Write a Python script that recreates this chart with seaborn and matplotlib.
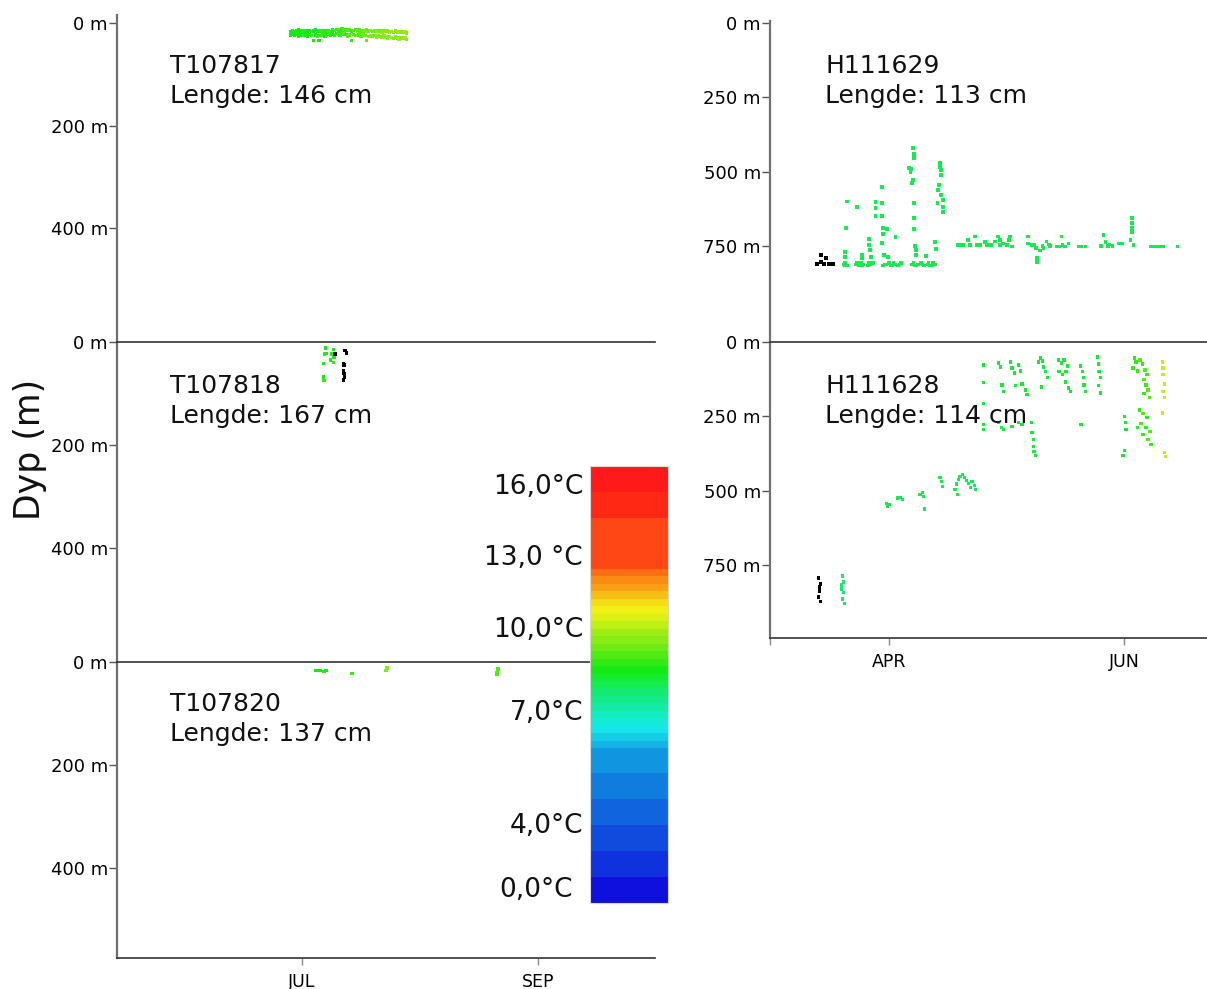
import numpy as np
import pandas as pd
import matplotlib
matplotlib.use("Agg")
import matplotlib.pyplot as plt
import seaborn as sns

nan = np.nan

# ==========================================
# DATA  (days relative to 1 Jul / 1 Apr, depth in m, temperature in degC, nan = no temp -> black)
# ==========================================
# T107817 - two readings per half day (upper / lower part of the band)
t17_days = [-3.0, -2.5, -2.0, -1.5, -1.0, -0.5, 0.0, 0.5, 1.0, 1.5,
            2.0, 2.5, 3.0, 3.5, 4.0, 4.5, 5.0, 5.5, 6.0, 6.5,
            7.0, 7.5, 8.0, 8.5, 9.0, 9.5, 10.0, 10.5, 11.0, 11.5,
            12.0, 12.5, 13.0, 13.5, 14.0, 14.5, 15.0, 15.5, 16.0, 16.5,
            17.0, 17.5, 18.0, 18.5, 19.0, 19.5, 20.0, 20.5, 21.0, 21.5,
            22.0, 22.5, 23.0, 23.5, 24.0, 24.5, 25.0, 25.5, 26.0, 26.5,
            27.0, 27.5]
t17_upper = [17, 15, 18, 16, 14, 17, 15, 16, 18, 16,
             15, 17, 16, 14, 16, 17, 15, 16, 18, 15,
             16, 17, 14, 15, 13, 14, 16, 12, 14, 13,
             15, 14, 16, 15, 13, 16, 14, 17, 15, 16,
             14, 16, 15, 17, 16, 15, 17, 16, 18, 16,
             17, 16, 18, 17, 19, 16, 18, 17, 19, 17,
             18, 20]
t17_lower = [24, 22, 25, 23, 26, 24, 23, 25, 24, 27,
             23, 25, 35, 24, 26, 35, 25, 24, 26, 25,
             23, 24, 22, 24, 21, 23, 24, 20, 22, 23,
             26, 24, 35, 23, 25, 25, 24, 26, 23, 25,
             35, 27, 26, 26, 25, 28, 26, 27, 29, 26,
             28, 30, 27, 29, 31, 28, 30, 32, 29, 31,
             30, 33]
t17_temp = [8.45, 8.45, 8.45, 8.45, 8.45, 8.45, 8.45, 8.7, 8.45, 8.45,
            8.45, 8.7, 8.45, 8.45, 8.7, 8.45, 8.7, 8.7, 8.45, 8.7,
            8.7, 8.7, 8.45, 8.7, 8.7, 8.98, 8.7, 8.7, 8.98, 8.7,
            8.98, 8.98, 8.7, 8.98, 8.98, 9.25, 8.98, 8.98, 9.25, 9.25,
            9.25, 9.25, 9.5, 9.25, 9.25, 9.5, 9.5, 9.25, 9.5, 9.5,
            9.5, 9.5, 9.5, 9.8, 9.5, 9.5, 9.5, 9.8, 9.5, 9.5,
            9.8, 9.5]

# T107818
t18_days = [6.2, 5.9, 6.5, 8.2, 7.8, 8.4, 7.4, 8.2, 5.6, 5.6, 5.8,
            8.7, 11.3, 11.6, 10.9, 11.0, 10.9, 11.0, 11.1, 10.9]
t18_depth = [12, 23, 22, 14, 23, 29, 35, 40, 42, 68, 75,
             23, 16, 21, 42, 45, 55, 61, 68, 74]
t18_temp = [8.45, 8.7, 8.45, 8.45, 8.7, 8.45, 8.45, 8.7, 8.45, 8.45, 8.7,
            nan, nan, nan, nan, nan, nan, nan, nan, nan]

# T107820
t20_days = [3.7, 4.7, 5.8, 6.3, 13.1, 22.1, 22.3, 51.2, 51.5, 51.2]
t20_depth = [16, 16, 18, 16, 22, 16, 12, 20, 14, 24]
t20_temp = [8.45, 8.45, 8.7, 8.45, 8.7, 9.5, 9.5, 9.0, 9.0, 9.0]

# H111629
h29_black_days = [-18.7, -17.7, -16.4, -17.7, -15.6, -14.5, -16.9]
h29_black_depth = [811, 804, 791, 781, 811, 811, 811]
h29_days = [-11.9, -11.4, -10.9, -8.6, -8.0, -7.3, -6.7, -5.5, -4.9, -4.2,
            -1.6, -0.8, 0.0, 0.8, 1.6, 2.3, 3.1, 6.0, 6.7, 7.5,
            8.3, 9.1, 9.9, 10.6, 11.4, 11.9,
            -11.6, -8.3, -7.0, -5.2, -1.2, 0.4, 1.2, 2.7, 6.3, 7.1,
            8.7, 10.2, 11.1,
            -11.4, -11.4, -11.2, -10.9, -8.3, -7.0, -7.0, -5.2, -5.2, -4.9,
            -4.7, -3.6, -3.6, -3.6, -1.8, -1.8, -1.8, -1.6, -1.6, -1.8,
            -1.3, -0.5, -0.3, 1.6, 5.2, 5.5, 5.7, 6.2, 6.5, 6.5,
            6.2, 6.0, 6.5, 6.5, 6.5, 6.7, 7.0, 7.0, 9.6, 12.2,
            11.9, 12.5, 13.2, 13.2, 13.5, 13.5, 13.0, 12.7, 13.5, 14.0,
            14.0, 14.0,
            17.7, 18.4, 19.2, 20.5, 22.3, 22.8, 24.9, 25.4, 27.5, 28.3,
            28.8, 28.8, 30.6, 31.1, 31.4, 31.9, 36.1, 36.1, 37.1, 38.1,
            39.2, 40.0, 40.8, 41.5, 41.8, 38.4, 38.4, 43.6, 44.7, 45.7,
            46.5, 49.1, 50.0, 50.9, 55.6, 56.1, 56.8, 57.9, 59.7, 60.5,
            62.6, 63.4, 63.0, 63.0, 63.0, 63.0, 67.8, 69.0, 70.0, 71.1,
            74.8,
            21.0, 23.8, 26.4, 29.6, 37.6, 39.8, 44.2, 45.0, 49.6, 55.0,
            57.2, 68.5, 70.6]
h29_depth = [812, 808, 815, 812, 815, 808, 812, 815, 812, 808,
             815, 812, 808, 815, 812, 815, 808, 812, 815, 812,
             808, 815, 812, 815, 808, 812,
             815, 808, 815, 808, 812, 815, 808, 812, 808, 815,
             812, 808, 815,
             787, 771, 690, 600, 619, 781, 791, 727, 747, 764,
             787, 603, 623, 650, 552, 606, 650, 690, 710, 740,
             781, 693, 787, 720, 488, 502, 492, 421, 441, 455,
             529, 539, 606, 656, 693, 750, 764, 781, 784, 760,
             737, 606, 471, 485, 495, 512, 545, 562, 579, 596,
             619, 636,
             747, 747, 747, 730, 719, 747, 737, 747, 736, 719,
             730, 747, 747, 730, 719, 752, 719, 741, 747, 757,
             765, 757, 735, 745, 750, 791, 804, 752, 719, 752,
             741, 752, 752, 752, 713, 737, 750, 750, 741, 741,
             730, 747, 656, 673, 690, 703, 752, 752, 752, 752,
             752,
             747, 747, 747, 741, 745, 750, 752, 747, 752, 750,
             745, 752, 752]
h29_temp = 7.85

# H111628
h28_black_days = [-18.4, -17.9, -18.2, -18.4, -17.9, -18.2]
h28_black_depth = [793, 813, 837, 857, 873, 823]
h28_days = [-12.2, -11.9, -12.5, -11.9, -12.2, -11.7, -12.5,
            -0.8, 0.0, -0.5, 2.1, 2.9, 3.4, 8.0, 8.6, 8.8, 9.1, 13.2, 13.5, 13.8,
            17.1, 17.4, 17.9, 18.4, 19.0, 19.5, 20.0, 20.5, 21.0, 21.5, 22.3, 22.1, 17.7,
            24.4, 24.4, 24.4, 24.4, 24.4,
            28.3, 28.8, 29.3, 29.6, 28.3, 29.1, 29.6,
            31.4, 31.9, 32.5, 33.5, 34.0, 34.5, 35.3, 35.8, 32.7, 33.5, 34.5, 31.9,
            36.9, 37.1, 37.4, 37.4, 37.6, 37.9,
            39.2, 39.7, 40.0, 40.5, 41.0, 39.5, 38.7,
            43.9, 44.7, 45.4, 46.2, 44.1, 44.9, 45.7, 46.5, 47.0, 45.9,
            49.6, 50.1, 50.4, 50.6, 50.9, 49.8,
            54.0, 54.3, 54.5, 54.8, 54.3, 54.8,
            61.0, 61.3, 61.5, 61.0, 60.7,
            63.6, 64.1, 65.1, 65.8, 66.4, 66.9, 66.1, 66.7, 67.2, 66.1, 67.5, 64.4, 63.3,
            64.9, 65.9, 66.9, 65.4, 66.7, 67.7, 65.9, 67.2, 68.0, 64.4,
            70.9, 71.1, 71.1, 71.4, 71.1, 71.4, 70.9, 71.4, 71.7]
h28_depth = [787, 807, 830, 843, 864, 880, 817,
             542, 546, 552, 525, 522, 529, 512, 505, 519, 562, 455, 469, 485,
             495, 478, 462, 452, 445, 455, 465, 475, 489, 468, 495, 482, 512,
             77, 137, 207, 278, 295,
             70, 84, 144, 167, 271, 288, 295,
             67, 87, 104, 77, 97, 141, 161, 177, 147, 271, 278, 285,
             271, 305, 328, 351, 368, 382,
             54, 64, 84, 100, 120, 151, 67,
             60, 70, 60, 80, 100, 110, 134, 154, 167, 100,
             80, 100, 120, 144, 167, 278,
             50, 74, 100, 120, 147, 171,
             251, 271, 295, 365, 382,
             54, 67, 60, 74, 94, 110, 127, 144, 161, 174, 187, 97, 87,
             228, 241, 254, 274, 288, 301, 311, 328, 345, 288,
             67, 87, 110, 141, 167, 187, 238, 372, 385]
h28_temp = [7.8, 7.8, 7.8, 7.8, 7.8, 7.8, 7.8,
            7.9, 7.9, 7.9, 7.9, 7.9, 7.9, 7.9, 7.9, 7.9, 7.9, 7.9, 7.9, 7.9,
            8.0, 8.0, 8.0, 8.0, 8.0, 8.0, 8.0, 8.0, 8.0, 8.0, 8.0, 8.0, 8.0,
            8.1, 8.1, 8.1, 8.1, 8.1,
            8.1, 8.1, 8.1, 8.1, 8.1, 8.1, 8.1,
            8.1, 8.1, 8.1, 8.1, 8.1, 8.1, 8.1, 8.1, 8.1, 8.1, 8.1, 8.1,
            8.1, 8.1, 8.1, 8.1, 8.1, 8.1,
            8.2, 8.2, 8.2, 8.2, 8.2, 8.2, 8.2,
            8.2, 8.2, 8.2, 8.2, 8.2, 8.2, 8.2, 8.2, 8.2, 8.2,
            8.2, 8.2, 8.2, 8.2, 8.2, 8.2,
            8.2, 8.2, 8.2, 8.2, 8.2, 8.2,
            8.3, 8.3, 8.3, 8.3, 8.3,
            8.7, 8.7, 8.98, 8.7, 8.98, 8.7, 8.98, 8.7, 8.98, 8.7, 8.98, 8.7, 8.7,
            8.7, 8.98, 8.7, 8.98, 8.7, 8.98, 8.7, 8.98, 8.7, 8.7,
            10.0, 10.0, 10.0, 10.0, 10.0, 10.0, 10.0, 10.2, 10.2]

tag_names = ["T107817", "T107818", "T107820", "H111629", "H111628"]
tag_lengths = [146, 167, 137, 113, 114]

# colour scale (bottom -> top), band heights in px
cbar_colors = ["#1010DE", "#1032DE", "#104BDE", "#1064DE", "#107DDE", "#1096E0",
               "#14B4E6", "#14CDE6", "#14E6EB", "#14EBD7", "#14EBBE", "#14EBA5",
               "#14EB8C", "#14EB6E", "#14EB50", "#14EB32", "#14EB14", "#32EB14",
               "#50EB14", "#6EEB14", "#87EB14", "#A0EB14", "#BEF014", "#DCF014",
               "#F0F014", "#F5DC14", "#F5BE14", "#FAA014", "#FA8C14", "#FA6E14",
               "#FF4614", "#FF2814", "#FF1919"]
cbar_heights = [26, 26, 26, 26, 26, 25] + [7.5] * 24 + [51, 26, 26]
cbar_labels = ["0,0°C", "4,0°C", "7,0°C", "10,0°C", "13,0 °C", "16,0°C"]
cbar_temps = [0, 4, 7, 10, 13, 16]
cbar_temp_pos = [16, 79, 192, 277, 348, 419]      # centre of each label on the bar (px from bottom)
cbar_label_base = [6, 70, 183, 267, 339, 410]     # text baselines (px from bottom)

# ==========================================
# HELPERS
# ==========================================
band_tops = np.cumsum(cbar_heights)


def temp_colour(t):
    if np.isnan(t):
        return "#000000"
    pos = np.interp(t, cbar_temps, cbar_temp_pos)
    idx = int(np.searchsorted(band_tops, pos, side="right"))
    return cbar_colors[min(idx, len(cbar_colors) - 1)]


def frame(base, days, depth, temps):
    temps = np.broadcast_to(np.asarray(temps, dtype=float), (len(days),))
    return pd.DataFrame({
        "date": pd.Timestamp(base) + pd.to_timedelta(days, unit="D"),
        "depth": depth,
        "colour": [temp_colour(t) for t in temps],
    })


jul = "2013-07-01"
apr = "2013-04-01"
df17 = pd.concat([frame(jul, t17_days, t17_upper, t17_temp),
                  frame(jul, t17_days, t17_lower, t17_temp)])
df18 = frame(jul, t18_days, t18_depth, t18_temp)
df20 = frame(jul, t20_days, t20_depth, t20_temp)
df29 = pd.concat([frame(apr, h29_black_days, h29_black_depth, nan),
                  frame(apr, h29_days, h29_depth, h29_temp)])
df28 = pd.concat([frame(apr, h28_black_days, h28_black_depth, nan),
                  frame(apr, h28_days, h28_depth, h28_temp)])

# ==========================================
# FIGURE
# ==========================================
sns.set_style("white")
plt.rcParams["font.family"] = ["DejaVu Sans"]

W, H = 1207, 989
fig = plt.figure(figsize=(W / 100, H / 100), dpi=100)


def add_ax(x0, y0, x1, y1):
    return fig.add_axes([x0 / W, 1 - y1 / H, (x1 - x0) / W, (y1 - y0) / H])


left_xlim = (pd.Timestamp(jul) - pd.Timedelta(days=48.6), pd.Timestamp("2013-09-01") + pd.Timedelta(days=30.7))
right_xlim = (pd.Timestamp(apr) - pd.Timedelta(days=30.9), pd.Timestamp("2013-06-01") + pd.Timedelta(days=21.5))

panels = [
    # data, box (px), ylim, yticks, xlim, top line, bottom axis, text origin
    (df17, (117, 15, 655, 342), (621, -15), [0, 200, 400], left_xlim, False, False, (170, 73)),
    (df18, (117, 342, 655, 662), (622, 0), [0, 200, 400], left_xlim, True, False, (170, 393)),
    (df20, (117, 662, 655, 958), (576, 0), [0, 200, 400], left_xlim, True, True, (170, 711)),
    (df29, (770, 21, 1207, 342), (1073, -6), [0, 250, 500, 750], right_xlim, False, False, (825, 73)),
    (df28, (770, 342, 1207, 638), (995, 0), [0, 250, 500, 750], right_xlim, True, True, (825, 393)),
]

for i, (df, box, ylim, yticks, xlim, top_line, bottom_axis, txt) in enumerate(panels):
    ax = add_ax(*box)
    pal = {c: c for c in df["colour"].unique()}
    sns.scatterplot(data=df, x="date", y="depth", hue="colour", palette=pal, legend=False,
                    marker="s", s=6, linewidth=0, ax=ax)
    ax.set_xlim(*xlim)
    ax.set_ylim(*ylim)
    ax.set_yticks(yticks)
    ax.set_yticklabels([f"{v} m" for v in yticks])
    ax.set_xlabel("")
    ax.set_ylabel("")
    ax.tick_params(axis="y", left=True, length=6, width=1, pad=0.5, labelsize=13,
                   colors="#555555", labelcolor="#000000")
    ax.spines["right"].set_visible(False)
    ax.spines["left"].set_color("#707070")
    ax.spines["left"].set_linewidth(1.6)
    ax.spines["top"].set_visible(top_line)
    ax.spines["top"].set_color("#333333")
    ax.spines["top"].set_linewidth(1.2)
    ax.spines["bottom"].set_visible(bottom_axis)
    ax.spines["bottom"].set_color("#333333")
    ax.spines["bottom"].set_linewidth(1.2)
    if bottom_axis:
        if i == 2:
            ticks = [pd.Timestamp(jul), pd.Timestamp("2013-09-01")]
            labels = ["JUL", "SEP"]
        else:
            ticks = [pd.Timestamp("2013-03-01"), pd.Timestamp(apr), pd.Timestamp("2013-06-01")]
            labels = ["", "APR", "JUN"]
        ax.set_xticks(ticks)
        ax.set_xticklabels(labels)
        ax.tick_params(axis="x", bottom=True, length=5, width=1, pad=6, labelsize=12.5,
                       colors="#888888", labelcolor="#000000")
    else:
        ax.set_xticks([])

    fig.text(txt[0] / W, 1 - txt[1] / H, tag_names[i], fontsize=18, va="baseline",
             color="#111111")
    fig.text(txt[0] / W, 1 - (txt[1] + 30) / H, f"Lengde: {tag_lengths[i]} cm",
             fontsize=18, va="baseline", color="#111111")

fig.text(30 / W, 1 - 449 / H, "Dyp (m)", rotation=90, fontsize=25, va="center",
         ha="center", color="#111111")

# colour scale drawn as stacked bars
axc = add_ax(590, 466, 668, 903)
bottoms = np.concatenate([[0], band_tops[:-1]])
axc.bar(x=np.zeros(len(cbar_heights)), height=cbar_heights, bottom=bottoms, width=1.0,
        color=cbar_colors, linewidth=0)
axc.set_xlim(-0.5, 0.5)
axc.set_ylim(0, band_tops[-1])
axc.set_xticks([])
axc.set_yticks([])
for s in axc.spines.values():
    s.set_color("#d8d8d8")
    s.set_linewidth(0.8)
trans = axc.get_yaxis_transform()
for lab, yb in zip(cbar_labels, cbar_label_base):
    xr = -0.218 if lab.startswith("0,0") else -0.09
    axc.text(xr, yb, lab, transform=trans, ha="right", va="baseline", fontsize=19,
             color="#111111")

fig.savefig("out.png", dpi=100)
